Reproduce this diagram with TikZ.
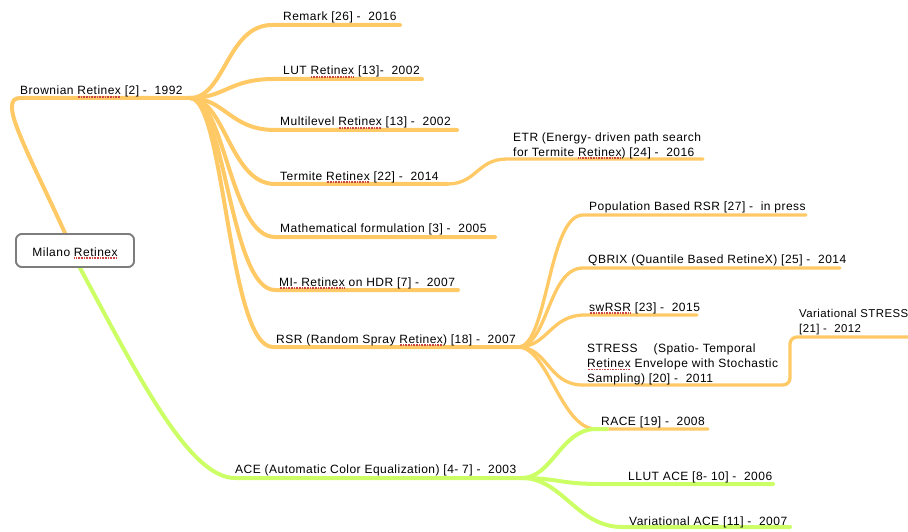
\documentclass[tikz,border=0pt]{standalone}
\usepackage{fontspec}
\setmainfont{Liberation Sans}[LetterSpace=4]
\definecolor{orbr}{RGB}{255,201,102}
\definecolor{grbr}{RGB}{204,255,102}
\definecolor{boxgray}{RGB}{125,125,125}
\definecolor{splred}{RGB}{205,70,70}
\newsavebox\splbox
\newcommand\spl[1]{\sbox\splbox{#1}\rlap{\color{splred}\raisebox{-2.8pt}{\hbox to \wd\splbox{\leaders\hbox to 1.6pt{\hss\rule{0.8pt}{1.5pt}\hss}\hfill}}}\usebox\splbox}
\newcommand\lblfont{\fontsize{12}{15}\selectfont}
\newcommand\lblfontsm{\fontsize{11.4}{15}\selectfont}
\begin{document}
\begin{tikzpicture}[x=1pt,y=-1pt,
  lbl/.style={anchor=base west,inner sep=0pt,font=\lblfont},
  mlbl/.style={anchor=north west,inner sep=0pt,align=left,font=\lblfont},
  obr/.style={draw=orbr,line width=4pt,line cap=round},
  obs/.style={draw=orbr,line width=3.3pt,line cap=round},
  gbr/.style={draw=grbr,line width=4pt,line cap=round},
  rootbox/.style={draw=boxgray,line width=1.8pt,rounded corners=6pt,fill=white,
    minimum width=118pt,minimum height=33pt,inner sep=0pt,font=\lblfont,
    text height=11pt,text depth=0pt}]
\useasboundingbox (0,0) rectangle (908,532);

% root node
\node[rootbox] (M) at (75,250.5) {Milano \spl{Retinex}};

% fan points
\coordinate (B) at (190,98);
\coordinate (R) at (518,347);
\coordinate (A) at (522,478);

% line end points
\coordinate (remS) at (272,25);  \coordinate (remE) at (400,25);
\coordinate (lutS) at (274,79);  \coordinate (lutE) at (422,79);
\coordinate (mulS) at (275,130); \coordinate (mulE) at (457,130);
\coordinate (terS) at (275,184); \coordinate (terE) at (447,184);
\coordinate (etrS) at (507,159); \coordinate (etrE) at (703,159);
\coordinate (matS) at (275,237); \coordinate (matE) at (495,237);
\coordinate (mirS) at (275,290); \coordinate (mirE) at (458,290);
\coordinate (rsrS) at (273,347);
\coordinate (popS) at (583,215); \coordinate (popE) at (806,215);
\coordinate (qbrS) at (583,268); \coordinate (qbrE) at (840,268);
\coordinate (swrS) at (585,315); \coordinate (swrE) at (697,315);
\coordinate (strS) at (583,385); \coordinate (strC) at (790,385);
\coordinate (vstC) at (790,337); \coordinate (vstE) at (908,337);
\coordinate (racS) at (596,429); \coordinate (racE) at (708,429);
\coordinate (racG) at (607,429);
\coordinate (aceS) at (235,478);
\coordinate (llS) at (600,484);  \coordinate (llE) at (773,484);
\coordinate (vaS) at (622,527);  \coordinate (vaE) at (790,527);

% orange branches
\draw[obr] ([xshift=-10pt]M.north) .. controls (40,178) and (12,125) .. (12,108)
  .. controls (12,100) and (14,98) .. (22,98) -- (B);
\foreach \s/\e in {remS/remE,lutS/lutE,mulS/mulE,terS/terE,matS/matE,mirS/mirE}
  \draw[obr] (B) .. controls +(35,0) and +(-45,0) .. (\s) -- (\e);
\draw[obr] (B) .. controls +(35,0) and +(-45,0) .. (rsrS) -- (R);
\draw[obs] (terE) .. controls +(30,0) and +(-30,0) .. (etrS) -- (etrE);
\foreach \s/\e in {popS/popE,qbrS/qbrE,swrS/swrE,racS/racE}
  \draw[obs] (R) .. controls +(30,0) and +(-35,0) .. (\s) -- (\e);
\draw[obs] (R) .. controls +(30,0) and +(-35,0) .. (strS);
\draw[obs,rounded corners=7pt] (strS) -- (strC) -- (vstC) -- (vstE);

% green branches
\draw[gbr] ([xshift=5pt]M.south) .. controls (140,380) and (190,478) .. (aceS) -- (A);
\draw[gbr] (A) .. controls +(30,0) and +(-35,0) .. (racS) -- (racG);
\draw[gbr] (A) .. controls +(35,0) and +(-40,0) .. (llS) -- (llE);
\draw[gbr] (A) .. controls +(40,0) and +(-45,0) .. (vaS) -- (vaE);

% redraw root on top
\node[rootbox] at (M) {Milano \spl{Retinex}};

% labels
\node[lbl] (brown) at (20,95) {Brownian \spl{Retinex} [2] - ~1992};
\node[lbl] (remark) at (283,21) {Remark [26] - ~2016};
\node[lbl] (lut) at (283,75) {LUT \spl{Retinex} [13]- ~2002};
\node[lbl] (multi) at (280,126) {Multilevel \spl{Retinex} [13] - ~2002};
\node[mlbl] (etr) at (513,130.5) {\strut ETR (Energy- driven path search\\for Termite \spl{Retinex}) [24] - ~2016};
\node[lbl] (termite) at (280,180) {Termite \spl{Retinex} [22] - ~2014};
\node[lbl] (math) at (280,233) {Mathematical formulation [3] - ~2005};
\node[lbl] (mir) at (279,286) {\spl{MI- Retinex} on HDR [7] - ~2007};
\node[lbl] (rsr) at (276,343) {RSR (Random Spray \spl{Retinex}) [18] - ~2007};
\node[lbl] (pop) at (589,211) {Population Based RSR [27] - ~in press};
\node[lbl] (qbrix) at (588,263) {QBRIX (Quantile Based RetineX) [25] - ~2014};
\node[lbl] (swrsr) at (589,311) {\spl{swRSR} [23] - ~2015};
\node[mlbl] (stress) at (587,341.5) {\strut STRESS\hspace{16pt}(Spatio- Temporal\\\spl{Retinex} Envelope with Stochastic\\Sampling) [20] - ~2011};
\node[mlbl,font=\lblfontsm] (vstress) at (799,306.5) {\strut Variational STRESS\\{[21]} - ~2012};
\node[lbl] (race) at (601,425) {RACE [19] - ~2008};
\node[lbl] (ace) at (235,473) {ACE (Automatic Color Equalization) [4- 7] - ~2003};
\node[lbl] (llut) at (628,480) {LLUT ACE [8- 10] - ~2006};
\node[lbl] (vace) at (629,525) {Variational ACE [11] - ~2007};
\end{tikzpicture}
\end{document}
